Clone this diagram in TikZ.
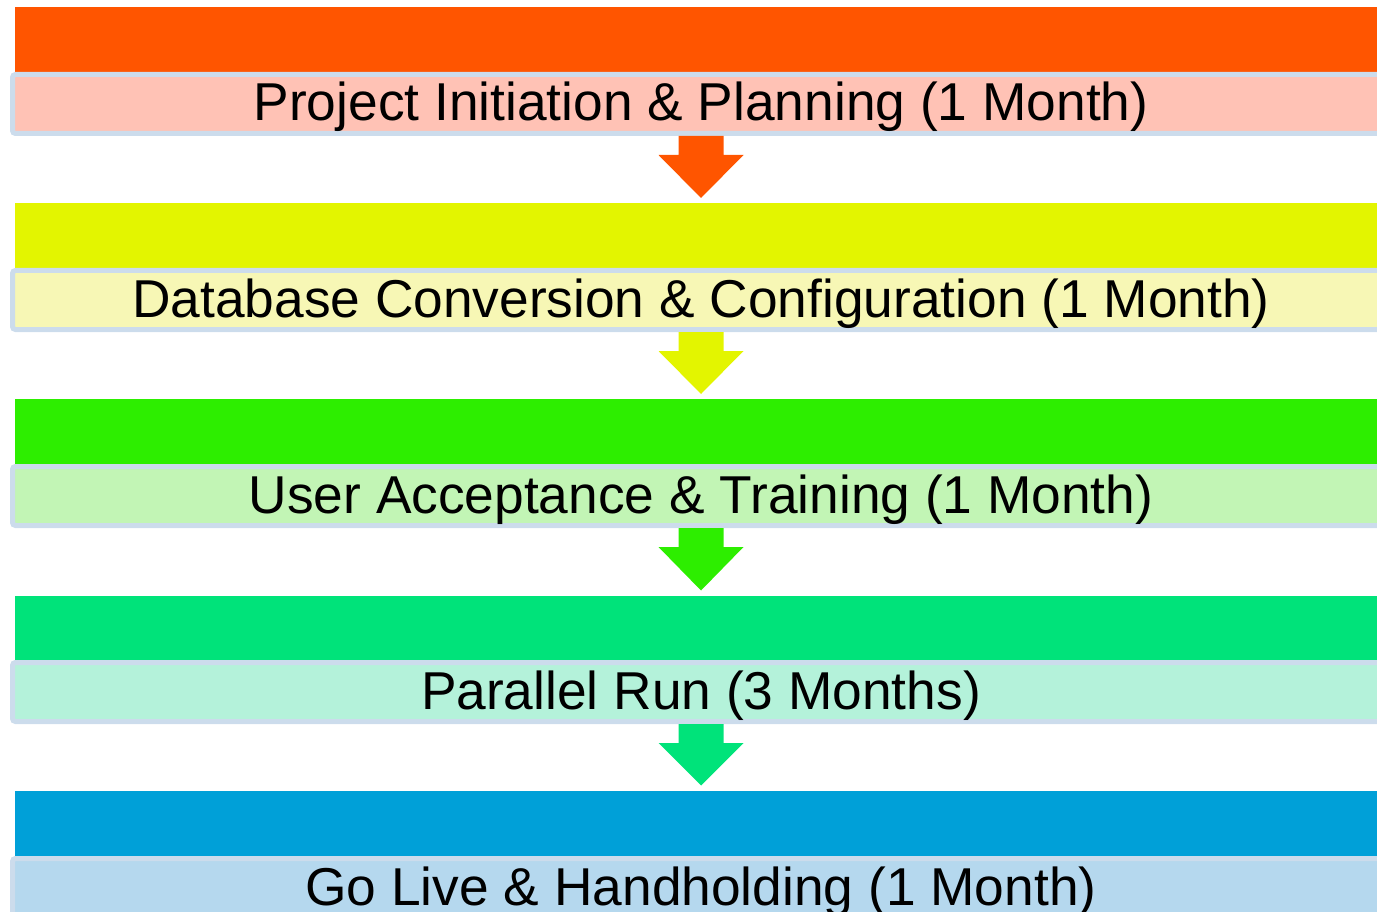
\documentclass[tikz,border=0pt]{standalone}
\usepackage{fontspec}
\setmainfont{Liberation Sans}
\usetikzlibrary{calc}
\definecolor{dA}{HTML}{FF5500}\definecolor{lA}{HTML}{FFC2B5}
\definecolor{dB}{HTML}{E3F500}\definecolor{lB}{HTML}{F7F7B5}
\definecolor{dC}{HTML}{2DEE00}\definecolor{lC}{HTML}{C2F5B5}
\definecolor{dD}{HTML}{00E37A}\definecolor{lD}{HTML}{B4F2DA}
\definecolor{dE}{HTML}{00A0D8}\definecolor{lE}{HTML}{B5D8EE}
\definecolor{edgec}{HTML}{CCDCEC}
\tikzset{
  bar/.style={rectangle, inner sep=0pt, outer sep=0pt, minimum width=1372pt, minimum height=65pt},
  stagebox/.style={rectangle, rounded corners=3pt, draw=edgec, line width=5pt, inner sep=0pt, outer sep=0pt,
     minimum width=1377pt, minimum height=59pt, text height=38pt, text depth=4pt,
     font=\fontsize{53.3}{64}\selectfont},
}
\newcommand{\flowarrow}[3]{%
  \fill[#3] ($(#1.south)+(-22.5,2.5)$) -- ($(#1.south)+(22.5,2.5)$) -- ($(#1.south)+(22.5,21.5)$)
    -- ($(#1.south)+(42.5,21.5)$) -- ($(#2.north)+(0,-5)$) -- ($(#1.south)+(-42.5,21.5)$)
    -- ($(#1.south)+(-22.5,21.5)$) -- cycle;}
\begin{document}
\begin{tikzpicture}[x=1pt,y=-1pt]
\useasboundingbox (0,0) rectangle (1377,912);
\clip (0,0) rectangle (1377,912);
\node[bar, fill=dA] (barA) at (701,39.5) {};
\node[stagebox, fill=lA] (boxA) at (701,104) {Project Initiation \& Planning (1 Month)};
\node[bar, fill=dB] (barB) at (701,235.5) {};
\node[stagebox, fill=lB] (boxB) at (701,300) {Database Conversion \& Configuration (1 Month)};
\node[bar, fill=dC] (barC) at (701,431.5) {};
\node[stagebox, fill=lC] (boxC) at (701,496) {User Acceptance \& Training (1 Month)};
\node[bar, fill=dD] (barD) at (701,628) {};
\node[stagebox, fill=lD] (boxD) at (701,692) {Parallel Run (3 Months)};
\node[bar, fill=dE] (barE) at (701,823) {};
\node[stagebox, fill=lE] (boxE) at (701,888) {Go Live \& Handholding (1 Month)};
\flowarrow{boxA}{barB}{dA}
\flowarrow{boxB}{barC}{dB}
\flowarrow{boxC}{barD}{dC}
\flowarrow{boxD}{barE}{dD}
\end{tikzpicture}
\end{document}
